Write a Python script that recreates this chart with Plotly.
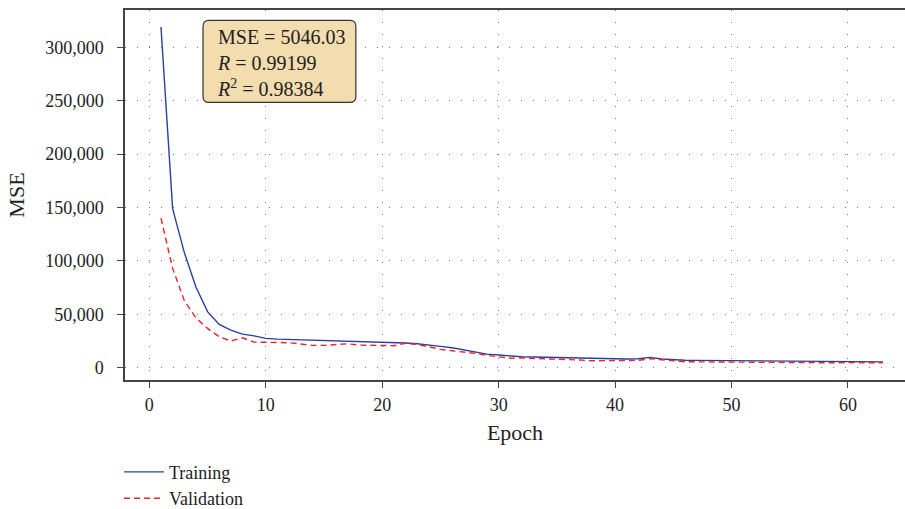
import plotly.graph_objects as go

epochs = list(range(1, 64))
training = [319000, 149000, 108000, 75500, 52500, 40500, 35200, 31500, 29800, 27500,
            26800, 26500, 26200, 25900, 25600, 25300, 25100, 24900, 24500, 23800,
            23900, 23100, 22400, 21500, 20000, 18700, 16500, 15000, 12700, 11900,
            10900, 10300, 10000, 9700, 9400, 9100, 8700, 8600, 8400, 8100,
            8100, 8400, 9700, 8100, 7400, 7000, 6900, 6800, 6900, 6400,
            6200, 6300, 6100, 6000, 6000, 5900, 5800, 5900, 5700, 5600,
            5500, 5400, 5500]
validation = [140000, 93000, 63000, 46700, 36800, 29000, 25000, 28000, 24000, 24000,
              23800, 23400, 22200, 20900, 20900, 21800, 22400, 21200, 20900, 20300,
              20600, 22800, 21800, 19600, 17200, 15900, 14900, 13400, 11600, 10000,
              8900, 9100, 8800, 8400, 8200, 8100, 7200, 6500, 6700, 6900,
              7000, 6900, 8400, 7200, 6500, 5600, 5500, 5400, 5500, 5000,
              5100, 5000, 5000, 4900, 4800, 4900, 4700, 4800, 4600, 4800,
              4700, 4500, 4600]
x_ticks = [0, 10, 20, 30, 40, 50, 60]
y_ticks = [0, 50000, 100000, 150000, 200000, 250000, 300000]
stats_text = "MSE = 5046.03<br><i>R</i> = 0.99199<br><i>R</i><sup>2</sup> = 0.98384"

FONT = "Liberation Serif"
AX = "#444444"

fig = go.Figure()
fig.add_trace(go.Scatter(x=epochs, y=training, mode="lines", name="Training",
                         line=dict(color="#2b3f9e", width=1.4)))
fig.add_trace(go.Scatter(x=epochs, y=validation, mode="lines", name="Validation",
                         line=dict(color="#e8262c", width=1.4, dash="6px,4px")))

# rounded stats box in paper coords
x0, x1, y0, y1 = 0.100, 0.296, 0.7503, 0.9717
rx, ry = 6 / 780, 6 / 370.5
path = (f"M{x0+rx},{y0} L{x1-rx},{y0} Q{x1},{y0} {x1},{y0+ry} "
        f"L{x1},{y1-ry} Q{x1},{y1} {x1-rx},{y1} L{x0+rx},{y1} "
        f"Q{x0},{y1} {x0},{y1-ry} L{x0},{y0+ry} Q{x0},{y0} {x0+rx},{y0} Z")
fig.add_shape(type="path", path=path, xref="paper", yref="paper",
              fillcolor="#f3dcae", line=dict(color="#333333", width=1.2))
fig.add_annotation(text=stats_text, xref="paper", yref="paper",
                   x=0.1154, y=0.962, xanchor="left", yanchor="top", align="left",
                   showarrow=False, font=dict(family=FONT, size=20, color="#222222"))

fig.update_layout(
    width=905, height=509,
    margin=dict(l=125, r=0, t=10, b=129, autoexpand=False),
    paper_bgcolor="white", plot_bgcolor="white",
    font=dict(family=FONT, size=18, color="#222222"),
    showlegend=True,
    legend=dict(orientation="v", x=-0.0077, xanchor="left", y=-0.199, yanchor="top",
                font=dict(family=FONT, size=18), bgcolor="rgba(0,0,0,0)",
                tracegroupgap=0, itemwidth=40),
)
fig.update_xaxes(range=[-2.09, 64.9], tickvals=x_ticks, ticks="outside", ticklen=6,
                 tickcolor=AX, showline=True, linecolor=AX, linewidth=1.5, mirror=True,
                 showgrid=True, gridcolor="#777777", gridwidth=1, griddash="1px,11px",
                 zeroline=False, title=dict(text="Epoch", standoff=10),
                 tickfont=dict(size=18), automargin=False, ticklabelstandoff=2)
fig.update_yaxes(range=[-11500, 334900], tickvals=y_ticks, tickformat=",", ticks="outside",
                 ticklen=6, tickcolor=AX, showline=True, linecolor=AX, linewidth=1.5,
                 mirror=False,
                 showgrid=True, gridcolor="#777777", gridwidth=1, griddash="1px,11px",
                 zeroline=False, title=dict(text="MSE", standoff=14),
                 tickfont=dict(size=18), automargin=False, ticklabelstandoff=10)

fig.write_html("out.html", config={"displayModeBar": False},
               post_script="document.body.style.margin='0px';document.body.style.overflow='hidden';")
